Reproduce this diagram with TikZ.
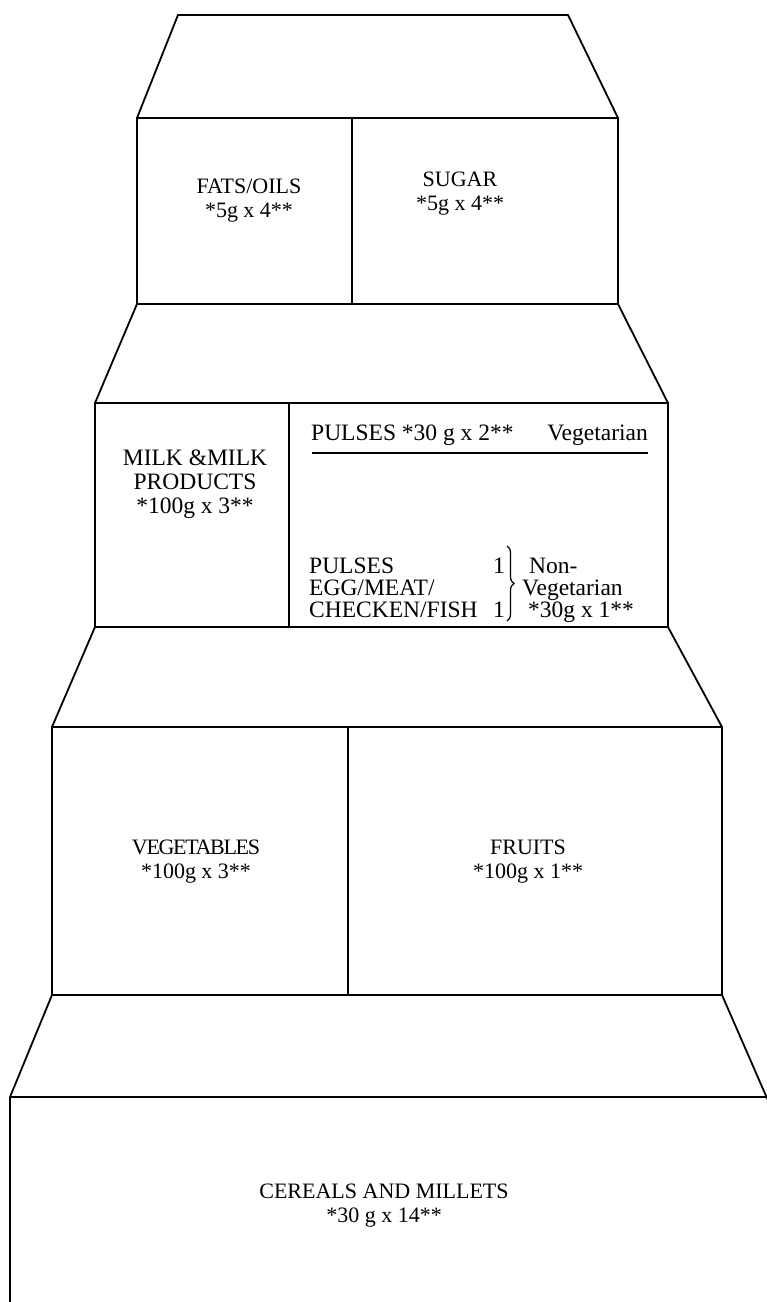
\documentclass[tikz,border=0pt]{standalone}
\usepackage{fontspec}
\setmainfont{Liberation Serif}
\usetikzlibrary{decorations.pathreplacing}
\begin{document}
\begin{tikzpicture}[x=1pt,y=-1pt,
  edge/.style={line width=1.8pt, line join=miter, line cap=butt},
  lbl/.style={font=\fontsize{22}{24}\selectfont, align=center, inner sep=0pt},
  lblb/.style={font=\fontsize{23.5}{24}\selectfont, align=center, inner sep=0pt},
  lbll/.style={font=\fontsize{23.5}{22}\selectfont, inner sep=0pt, anchor=base west},
  lblr/.style={font=\fontsize{23.5}{22}\selectfont, inner sep=0pt, anchor=base east},
  bracestyle/.style={line width=1.2pt, decorate, decoration={brace, amplitude=7pt}}
]
\useasboundingbox (0,0) rectangle (767,1302);
\fill[white] (0,0) rectangle (767,1302);
\begin{scope}
\clip (0,0) rectangle (767,1302);
% tier coordinates
\coordinate (t1a) at (178,15);  \coordinate (t1b) at (568,15);
\coordinate (b1l) at (137,118); \coordinate (b1r) at (618,118);
\coordinate (b1bl) at (137,304); \coordinate (b1br) at (618,304);
\coordinate (d1t) at (352,118); \coordinate (d1b) at (352,304);
\coordinate (b2l) at (95,403);  \coordinate (b2r) at (668,403);
\coordinate (b2bl) at (95,627); \coordinate (b2br) at (668,627);
\coordinate (d2t) at (289,403); \coordinate (d2b) at (289,627);
\coordinate (b3l) at (52,727);  \coordinate (b3r) at (722,727);
\coordinate (b3bl) at (52,995); \coordinate (b3br) at (722,995);
\coordinate (d3t) at (348,727); \coordinate (d3b) at (348,995);
\coordinate (b4l) at (10,1097); \coordinate (b4r) at (767,1097);
\coordinate (b4bot) at (10,1302);
\coordinate (t4r) at (770,1105);
% top roof
\draw[edge] (b1l) -- (t1a) -- (t1b) -- (b1r);
\draw[edge] (b1l) rectangle (b1br);
\draw[edge] (d1t) -- (d1b);
% tier 2
\draw[edge] (b1bl) -- (b2l);
\draw[edge] (b1br) -- (b2r);
\draw[edge] (b2l) rectangle (b2br);
\draw[edge] (d2t) -- (d2b);
% tier 3
\draw[edge] (b2bl) -- (b3l);
\draw[edge] (b2br) -- (b3r);
\draw[edge] (b3l) rectangle (b3br);
\draw[edge] (d3t) -- (d3b);
% tier 4
\draw[edge] (b3bl) -- (b4l);
\draw[edge] (b3br) -- (t4r);
\draw[edge] (b4l) -- (b4r);
\draw[edge] (b4l) -- (b4bot);
\end{scope}
% texts
\node[lbl] (fats) at (249,201) {FATS/OILS\\*5g x 4**};
\node[lbl] (sugar) at (460,194) {SUGAR\\*5g x 4**};
\node[lblb] (milk) at (195,484) {MILK \&MILK\\PRODUCTS\\*100g x 3**};
\node[lbll] (pveg) at (311,440) {PULSES *30 g x 2**};
\node[lblr] (vegt) at (648,440) {Vegetarian};
\coordinate (ul1) at (312,453);
\coordinate (ul2) at (648,453);
\draw[line width=1.8pt] (ul1) -- (ul2);
\node[lbll] (p1) at (309,573) {PULSES};
\node[lbll] (p2) at (309,595) {EGG/MEAT/};
\node[lbll] (p3) at (309,617) {CHECKEN/FISH};
\node[lblr] (n1) at (505,573) {1};
\node[lblr] (n2) at (505,617) {1};
\coordinate (br1) at (507,546);
\coordinate (br2) at (507,621);
\draw[bracestyle] (br1) -- (br2);
\node[lbll] (nv1) at (529,573) {Non-};
\node[lbll] (nv2) at (522,595) {Vegetarian};
\node[lbll] (nv3) at (528,617) {*30g x 1**};
\node[lbl] (vegs) at (196,862) {\addfontfeature{LetterSpace=-6}VEGETABLES\\*100g x 3**};
\node[lbl] (fruits) at (528,862) {FRUITS\\*100g x 1**};
\node[lbl] (cereal) at (384,1206) {CEREALS AND MILLETS\\*30 g x 14**};
\end{tikzpicture}
\end{document}
